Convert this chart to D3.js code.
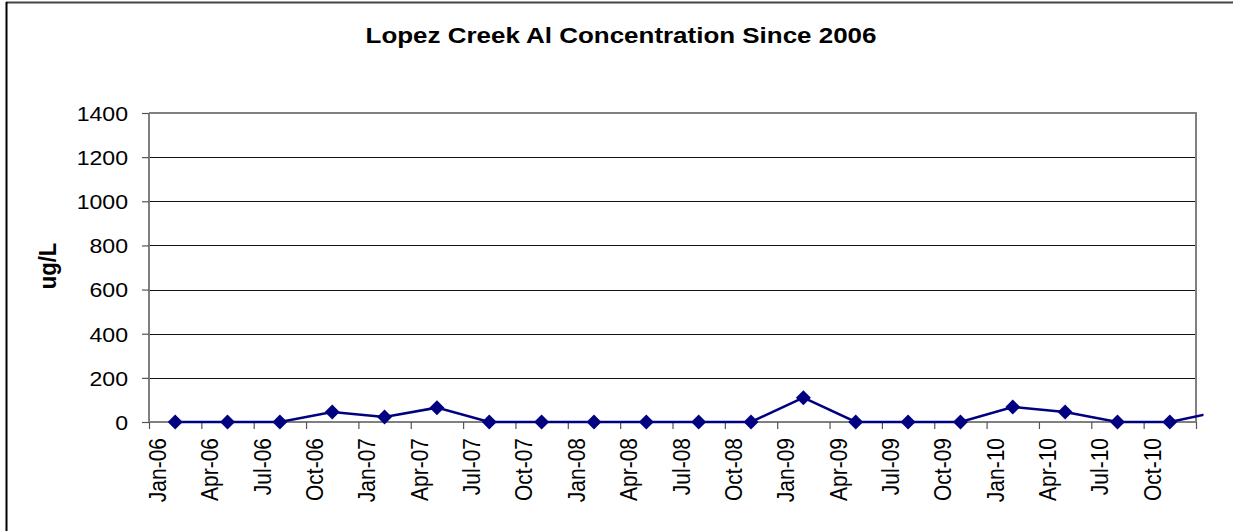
<!DOCTYPE html>
<html><head><meta charset="utf-8">
<script src="https://cdn.jsdelivr.net/npm/d3@7"></script>
<style>body{margin:0;background:#fff} svg{display:block}</style>
</head><body><svg id="c" width="1233" height="531"></svg>
<script>
const chartTitle = "Lopez Creek Al Concentration Since 2006";
const yTitle = "ug/L";
const categories = ["Jan-06","Apr-06","Jul-06","Oct-06","Jan-07","Apr-07","Jul-07","Oct-07",
  "Jan-08","Apr-08","Jul-08","Oct-08","Jan-09","Apr-09","Jul-09","Oct-09",
  "Jan-10","Apr-10","Jul-10","Oct-10"];
const values = [0,0,0,45,23,65,0,0,0,0,0,0,110,0,0,0,68,45,0,0];
const offAxisValues = [50];
const yTicks = [0,200,400,600,800,1000,1200,1400];

const font = "'Liberation Sans', Arial, sans-serif";
const svg = d3.select("#c");
const plot = {left:149, right:1196, top:113, bottom:422};
const x = d3.scaleLinear().domain([0, categories.length]).range([plot.left, plot.right]);
const y = d3.scaleLinear().domain([0, 1400]).range([plot.bottom, plot.top]);

// chart frame (top and left edges visible)
svg.append("line").attr("x1",6).attr("x2",1233).attr("y1",2.5).attr("y2",2.5)
  .attr("stroke","#444").attr("stroke-width",2);
svg.append("line").attr("x1",6.5).attr("x2",6.5).attr("y1",2).attr("y2",531)
  .attr("stroke","#000").attr("stroke-width",2);

// title
svg.append("text").attr("transform","translate(621,43) scale(1.18,1)")
  .attr("text-anchor","middle").attr("font-family",font).attr("font-weight","bold")
  .attr("font-size",22).attr("fill","#000").text(chartTitle);

// gridlines
svg.append("g").selectAll("line").data(yTicks.filter(v=>v>0 && v<1400)).join("line")
  .attr("x1",plot.left).attr("x2",plot.right)
  .attr("y1",d=>Math.round(y(d))+0.5).attr("y2",d=>Math.round(y(d))+0.5)
  .attr("stroke","#111").attr("stroke-width",1);

// plot frame top/right
svg.append("path")
  .attr("d",`M${plot.left},${plot.top}H${plot.right}V${plot.bottom}`)
  .attr("fill","none").attr("stroke","#808080").attr("stroke-width",2);

// y axis
const yAxis = svg.append("g").attr("transform",`translate(${plot.left},0)`)
  .call(d3.axisLeft(y).tickValues(yTicks).tickSize(7).tickPadding(0).tickFormat(d3.format("d")));
yAxis.select(".domain").attr("stroke","#808080").attr("stroke-width",2)
  .attr("d",`M0,${plot.top}V${plot.bottom}`);
yAxis.selectAll(".tick line").attr("stroke","#555").attr("stroke-width",1.2);
yAxis.selectAll(".tick text").attr("font-family",font).attr("font-size",21).attr("fill","#000")
  .attr("x",0).attr("dy","0.35em").attr("text-anchor","end")
  .attr("transform","translate(-21,0) scale(1.1,1)");

// x axis
const xAxis = svg.append("g").attr("transform",`translate(0,${plot.bottom})`)
  .call(d3.axisBottom(x).tickValues(d3.range(categories.length+1)).tickSize(7)
    .tickFormat(i=>categories[i] || ""));
xAxis.select(".domain").attr("stroke","#808080").attr("stroke-width",2)
  .attr("d",`M${plot.left},0H${plot.right}`);
xAxis.selectAll(".tick line").attr("stroke","#555").attr("stroke-width",1.2);
xAxis.selectAll(".tick text").attr("font-family",font).attr("font-size",21).attr("fill","#000")
  .attr("x",0).attr("y",0).attr("dy",null).attr("text-anchor","end")
  .attr("transform","translate(16.5,16) rotate(-90) scale(1,1.12)");

// y title
svg.append("text").attr("transform","translate(56,266) rotate(-90) scale(1,1.12)")
  .attr("text-anchor","middle").attr("font-family",font).attr("font-weight","bold")
  .attr("font-size",22).attr("fill","#000").text(yTitle);

// series
const pts = values.concat(offAxisValues).map((v,i)=>({i,v}));
svg.append("clipPath").attr("id","clip").append("rect")
  .attr("x",0).attr("y",0).attr("width",1203.5).attr("height",531);
svg.append("path").datum(pts).attr("clip-path","url(#clip)")
  .attr("d",d3.line().x(d=>x(d.i+0.5)).y(d=>y(d.v)))
  .attr("fill","none").attr("stroke","#000080").attr("stroke-width",2.5);
svg.append("g").selectAll("path").data(pts.slice(0, values.length)).join("path")
  .attr("transform",d=>`translate(${x(d.i+0.5)},${y(d.v)}) rotate(45)`)
  .attr("d",d3.symbol(d3.symbolSquare,112)())
  .attr("fill","#000080");
</script></body></html>
